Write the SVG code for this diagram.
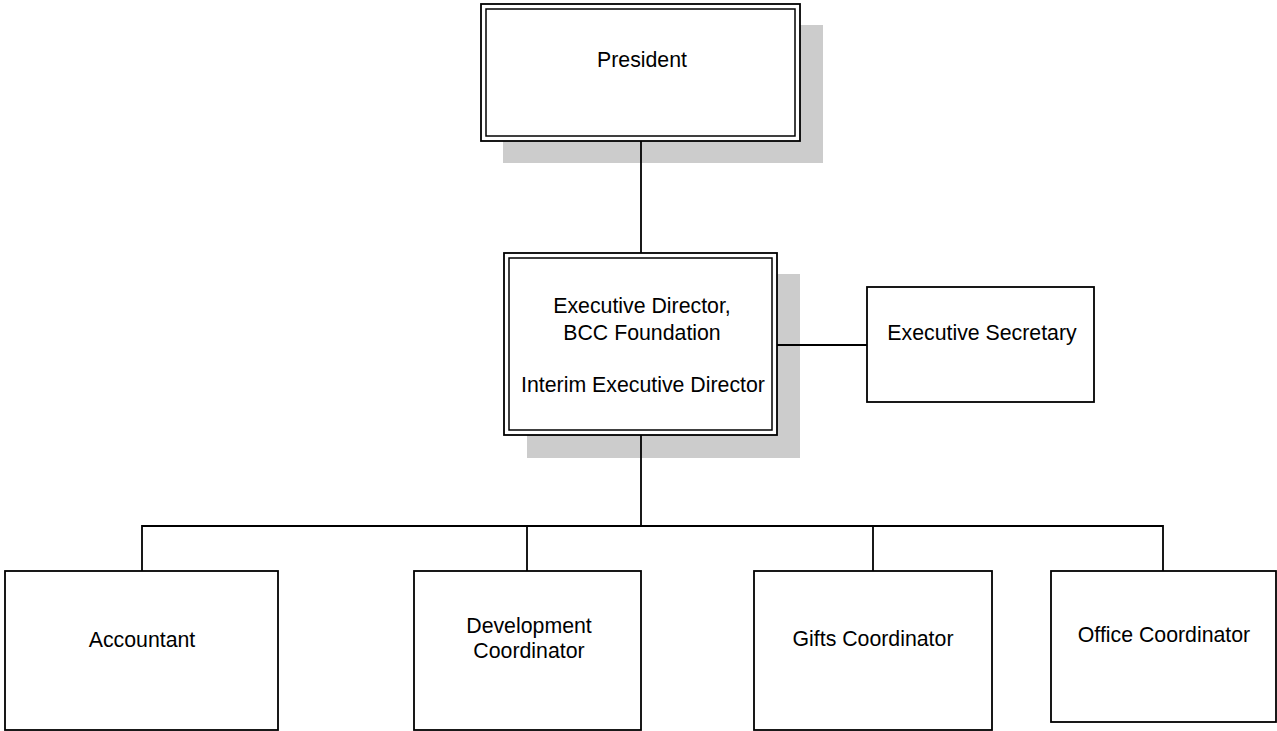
<svg xmlns="http://www.w3.org/2000/svg" width="1277" height="731" viewBox="0 0 1277 731">
<style>
.bg{fill:#ffffff}
.shadow{fill:#cccccc;stroke:none}
.box{fill:#ffffff;stroke:#000000;stroke-width:1.8}
.inner{fill:none;stroke:#000000;stroke-width:1.5}
.conn{fill:none;stroke:#000000;stroke-width:1.8}
text{font-family:"Liberation Sans",Arial,sans-serif;font-size:21.3px;fill:#000000;text-anchor:middle}
</style>
<rect class="bg" x="0" y="0" width="1277" height="731"/>
<g id="president">
<rect class="shadow" x="503" y="25" width="320" height="138"/>
<rect class="box" x="481" y="4" width="319" height="137"/>
<rect class="inner" x="486" y="9" width="309" height="127"/>
<text x="642" y="67">President</text>
</g>
<g id="executive-director">
<rect class="shadow" x="527" y="274" width="273" height="184"/>
<rect class="box" x="504" y="253" width="273" height="182"/>
<rect class="inner" x="509" y="258" width="263" height="172"/>
<text x="642" y="313">Executive Director,</text>
<text x="642" y="340">BCC Foundation</text>
<text x="643" y="392">Interim Executive Director</text>
</g>
<g id="executive-secretary">
<rect class="box" x="867" y="287" width="227" height="115"/>
<text x="982" y="340">Executive Secretary</text>
</g>
<g id="accountant">
<rect class="box" x="5" y="571" width="273" height="159"/>
<text x="142" y="647">Accountant</text>
</g>
<g id="development-coordinator">
<rect class="box" x="414" y="571" width="227" height="159"/>
<text x="529" y="633">Development</text>
<text x="529" y="658">Coordinator</text>
</g>
<g id="gifts-coordinator">
<rect class="box" x="754" y="571" width="238" height="159"/>
<text x="873" y="646">Gifts Coordinator</text>
</g>
<g id="office-coordinator">
<rect class="box" x="1051" y="571" width="225" height="151"/>
<text x="1164" y="642">Office Coordinator</text>
</g>
<g id="connectors">
<line class="conn" x1="641" y1="141" x2="641" y2="253"/>
<line class="conn" x1="641" y1="435" x2="641" y2="526"/>
<line class="conn" x1="777" y1="345" x2="867" y2="345"/>
<polyline class="conn" points="142,571 142,526 1163,526 1163,571"/>
<line class="conn" x1="527" y1="526" x2="527" y2="571"/>
<line class="conn" x1="873" y1="526" x2="873" y2="571"/>
</g>
</svg>
